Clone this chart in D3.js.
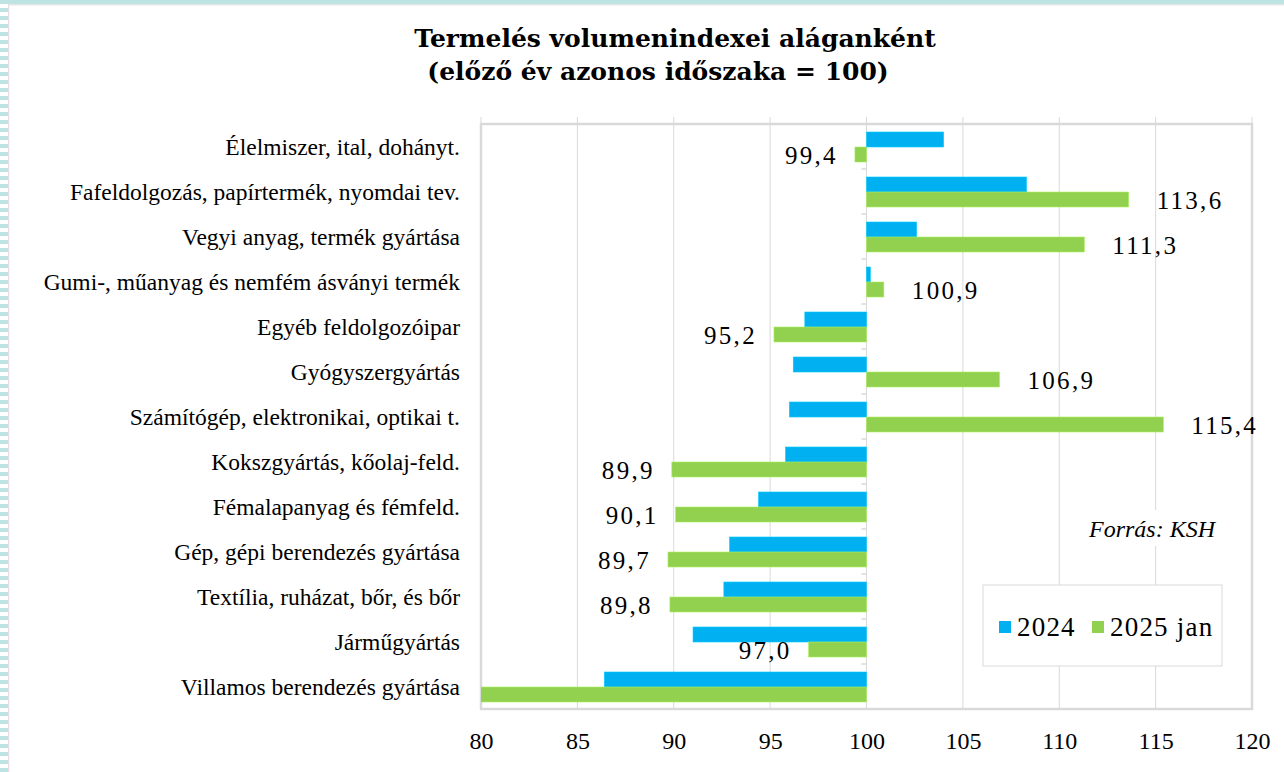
<!DOCTYPE html>
<html>
<head>
<meta charset="utf-8">
<script src="https://cdn.jsdelivr.net/npm/d3@7"></script>
<style>
  html, body { margin: 0; padding: 0; background: #fff; }
  svg { display: block; }
</style>
</head>
<body>
<svg id="chart" width="1284" height="772"></svg>
<script>
const categories = [
  "Élelmiszer, ital, dohányt.",
  "Fafeldolgozás, papírtermék, nyomdai tev.",
  "Vegyi anyag, termék gyártása",
  "Gumi-, műanyag és nemfém ásványi termék",
  "Egyéb feldolgozóipar",
  "Gyógyszergyártás",
  "Számítógép, elektronikai, optikai t.",
  "Kokszgyártás, kőolaj-feld.",
  "Fémalapanyag és fémfeld.",
  "Gép, gépi berendezés gyártása",
  "Textília, ruházat, bőr, és bőr",
  "Járműgyártás",
  "Villamos berendezés gyártása"
];
const seriesNames = ["2024", "2025 jan"];
const values2024 = [104.0, 108.3, 102.6, 100.2, 96.8, 96.2, 96.0, 95.8, 94.4, 92.9, 92.6, 91.0, 86.4];
const values2025 = [99.4, 113.6, 111.3, 100.9, 95.2, 106.9, 115.4, 89.9, 90.1, 89.7, 89.8, 97.0, 75.0];
const xTicks = [80, 85, 90, 95, 100, 105, 110, 115, 120];
const baseValue = 100;
const colors = ["#00B0F0", "#92D050"];

(function () {
const svg = d3.select("#chart");
const W = 1284, H = 772;
const SERIF = "'Liberation Serif', 'Times New Roman', serif";

// frame decoration
const stripe = svg.append("g");
d3.range(0, H, 8).forEach(yy => {
  stripe.append("rect").attr("x", 0).attr("y", yy + 8).attr("width", 8).attr("height", 4).attr("fill", "#bde3e3");
});
svg.append("rect").attr("x", 0).attr("y", 0).attr("width", W).attr("height", 4).attr("fill", "#bde3e3");
svg.append("rect").attr("x", 8).attr("y", 4).attr("width", W - 8).attr("height", 1.5).attr("fill", "#e6e6e6");
svg.append("rect").attr("x", 8).attr("y", 4).attr("width", 1.2).attr("height", H).attr("fill", "#e6dde6");

// title
const title = svg.append("text")
  .attr("text-anchor", "middle")
  .style("font-family", "'DejaVu Serif', serif")
  .style("font-weight", "bold")
  .style("font-size", "25px")
  .attr("fill", "#000");
title.append("tspan").attr("x", 675).attr("y", 47).text("Termelés volumenindexei aláganként");
title.append("tspan").attr("x", 658).attr("y", 80).text("(előző év azonos időszaka = 100)");

const pLeft = 481, pRight = 1252, pTop = 124, pBottom = 709;
const x = d3.scaleLinear().domain([xTicks[0], xTicks[xTicks.length - 1]]).range([pLeft, pRight]);
const y0 = d3.scaleBand().domain(categories).range([pTop, pBottom]);
const y1 = d3.scaleBand().domain(seriesNames).range([0, y0.bandwidth()]).paddingOuter(0.5);

// gridlines
svg.append("g").selectAll("line").data(xTicks).join("line")
  .attr("x1", d => x(d)).attr("x2", d => x(d))
  .attr("y1", pTop - 7).attr("y2", pBottom)
  .attr("stroke", "#d9d9d9").attr("stroke-width", 1);

// plot border
svg.append("rect")
  .attr("x", pLeft).attr("y", pTop).attr("width", pRight - pLeft).attr("height", pBottom - pTop)
  .attr("fill", "none").attr("stroke", "#d9d9d9").attr("stroke-width", 2.5);

// category tick marks on the 100 axis
const bounds = categories.slice(1).map(c => y0(c));
svg.append("g").selectAll("line").data(bounds).join("line")
  .attr("x1", x(baseValue) - 5).attr("x2", x(baseValue))
  .attr("y1", d => d).attr("y2", d => d)
  .attr("stroke", "#d9d9d9").attr("stroke-width", 1.5);

// clip
svg.append("clipPath").attr("id", "plotclip")
  .append("rect").attr("x", pLeft).attr("y", pTop).attr("width", pRight - pLeft).attr("height", pBottom - pTop);

const data = [];
categories.forEach((c, i) => {
  data.push({ cat: c, s: seriesNames[0], v: values2024[i], col: colors[0] });
  data.push({ cat: c, s: seriesNames[1], v: values2025[i], col: colors[1] });
});

svg.append("g").attr("clip-path", "url(#plotclip)")
  .selectAll("rect").data(data).join("rect")
  .attr("x", d => Math.min(x(d.v), x(baseValue)))
  .attr("width", d => Math.abs(x(d.v) - x(baseValue)))
  .attr("y", d => y0(d.cat) + y1(d.s) + 0.5)
  .attr("height", y1.bandwidth())
  .attr("fill", d => d.col)
  .attr("stroke", d => d3.color(d.col).brighter(0.4))
  .attr("stroke-width", 0.6);

// data labels for 2025 jan
const fmt = v => d3.format(".1f")(v).replace(".", ",");
const labelData = categories.map((c, i) => ({ cat: c, v: values2025[i] }))
  .filter(d => d.v >= xTicks[0]);
svg.append("g").selectAll("text").data(labelData).join("text")
  .attr("x", d => d.v >= baseValue ? x(d.v) + 28 : x(d.v) - 17)
  .attr("y", d => y0(d.cat) + y1(seriesNames[1]) + y1.bandwidth() / 2 + 1)
  .attr("dy", "0.35em")
  .attr("text-anchor", d => d.v >= baseValue ? "start" : "end")
  .style("font-family", SERIF)
  .style("font-size", "25px")
  .style("letter-spacing", "2.3px")
  .attr("fill", "#000")
  .text(d => fmt(d.v));

// category labels
svg.append("g").selectAll("text").data(categories).join("text")
  .attr("x", 460)
  .attr("y", d => y0(d) + y0.bandwidth() / 2)
  .attr("dy", "0.35em")
  .attr("text-anchor", "end")
  .style("font-family", SERIF)
  .style("font-size", "23.5px")
  .attr("fill", "#000")
  .text(d => d);

// x axis labels
const xAxis = d3.axisBottom(x).tickValues(xTicks).tickSize(0).tickPadding(0).tickFormat(d3.format("d"));
const gx = svg.append("g").call(xAxis);
gx.select(".domain").remove();
gx.selectAll("text")
  .attr("y", 749).attr("dy", null)
  .style("font-family", SERIF)
  .style("font-size", "24px")
  .attr("fill", "#000");

// source note
const srcG = svg.append("g");
srcG.append("rect").attr("x", 1084).attr("y", 510).attr("width", 140).attr("height", 36).attr("fill", "#fff");
srcG.append("text").attr("x", 1089).attr("y", 537)
  .style("font-family", SERIF)
  .style("font-style", "italic")
  .style("font-size", "24px")
  .text("Forrás: KSH");

// legend
const lg = svg.append("g");
lg.append("rect").attr("x", 983).attr("y", 585).attr("width", 239).attr("height", 81)
  .attr("fill", "#fff").attr("stroke", "#d9d9d9").attr("stroke-width", 1);
const legendX = [999, 1092];
seriesNames.forEach((s, i) => {
  lg.append("rect").attr("x", legendX[i]).attr("y", 621).attr("width", 12).attr("height", 12).attr("fill", colors[i]);
  lg.append("text").attr("x", legendX[i] + 18).attr("y", 636)
    .style("font-family", SERIF)
    .style("font-size", "27px")
    .style("letter-spacing", "1.2px")
    .text(s);
});
})();
</script>
</body>
</html>
